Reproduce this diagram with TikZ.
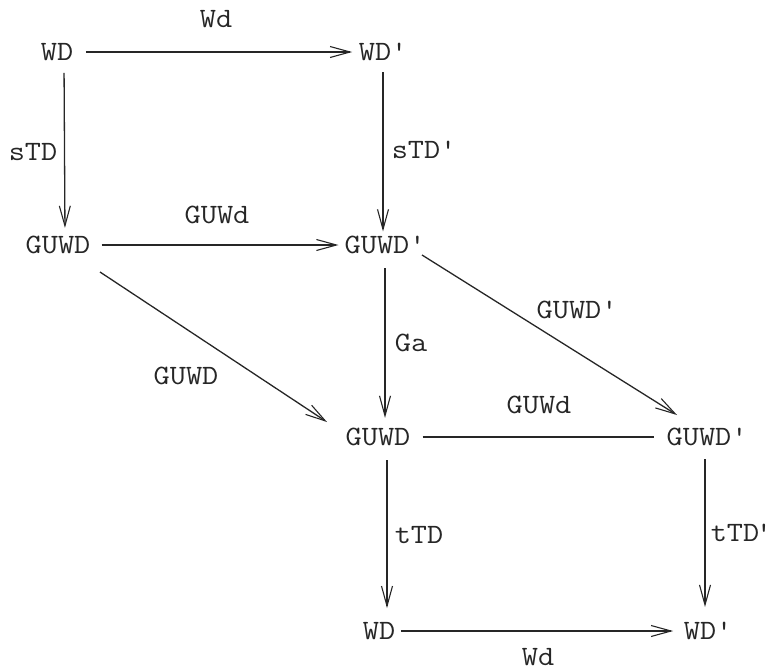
\documentclass[tikz,border=0pt]{standalone}
\usepackage{graphicx}
\usetikzlibrary{arrows.meta}
\newcommand\lbltxt[1]{\scalebox{1.12}[1]{#1}}
\begin{document}
\begin{tikzpicture}[x=1pt,y=-1pt,
  lab/.style={font=\fontsize{28}{30}\selectfont\ttfamily, inner sep=0pt, text=black!85},
  arr/.style={line width=1.3pt, draw=black!85, -{Straight Barb[length=20pt,width=11pt,line width=1.1pt]}},
  ln/.style={line width=1.3pt, draw=black!85}]
\useasboundingbox (0,0) rectangle (774,672);
% objects
\node[lab] (wd1)  at (57,52)   {\lbltxt{WD}};
\node[lab] (wd1p) at (375,52)  {\lbltxt{WD\rlap{'}}};
\node[lab] (gu1)  at (58,245)  {\lbltxt{GUWD}};
\node[lab] (gu1p) at (377,245) {\lbltxt{GUWD\rlap{'}}};
\node[lab] (gu2)  at (378,437) {\lbltxt{GUWD}};
\node[lab] (gu2p) at (699,437) {\lbltxt{GUWD\rlap{'}}};
\node[lab] (wd2)  at (379,631) {\lbltxt{WD}};
\node[lab] (wd2p) at (700,631) {\lbltxt{WD\rlap{'}}};
% labels
\node[lab] (l1)  at (216,19)  {\lbltxt{Wd}};
\node[lab] (l2)  at (33,152)  {\lbltxt{sTD}};
\node[lab] (l3)  at (416,150) {\lbltxt{sTD\rlap{'}}};
\node[lab] (l4)  at (217,215) {\lbltxt{GUWd}};
\node[lab] (l5)  at (186,376) {\lbltxt{GUWD}};
\node[lab] (l6)  at (411,343) {\lbltxt{Ga}};
\node[lab] (l7)  at (569,310) {\lbltxt{GUWD\rlap{'}}};
\node[lab] (l8)  at (539,405) {\lbltxt{GUWd}};
\node[lab] (l9)  at (419,535) {\lbltxt{tTD}};
\node[lab] (l10) at (735,533) {\lbltxt{tTD\rlap{\kern-3pt'}}};
\node[lab] (l11) at (538,657) {\lbltxt{Wd}};
% connectors
\draw[arr, shorten <=12.5pt, shorten >=6.5pt] (wd1.east) -- (wd1p.west);
\draw[arr, shorten <=12pt, shorten >=8pt] ([xshift=7pt]wd1.south) -- ([xshift=7pt]gu1.north);
\draw[arr, shorten <=11pt, shorten >=4.5pt] ([xshift=8pt]wd1p.south) -- ([xshift=6pt]gu1p.north);
\draw[arr, shorten <=11pt, shorten >=6pt] (gu1.east) -- (gu1p.west);
\draw[arr] ([shift={(42,27)}]gu1.center) -- ([shift={(-51,-15)}]gu2.center);
\draw[arr] ([shift={(45,10)}]gu1p.center) -- ([shift={(-22,-22)}]gu2p.center);
\draw[arr, shorten <=14pt, shorten >=10pt] ([xshift=8pt]gu1p.south) -- ([xshift=7pt]gu2.north);
\draw[ln, shorten <=12pt, shorten >=13pt] (gu2.east) -- (gu2p.west);
\draw[arr, shorten <=14pt, shorten >=14pt] ([xshift=9pt]gu2.south) -- ([xshift=8pt]wd2.north);
\draw[arr, shorten <=13pt, shorten >=15pt] ([xshift=6pt]gu2p.south) -- ([xshift=5pt]wd2p.north);
\draw[arr, shorten <=5.5pt, shorten >=10.5pt] (wd2.east) -- (wd2p.west);
\end{tikzpicture}
\end{document}
